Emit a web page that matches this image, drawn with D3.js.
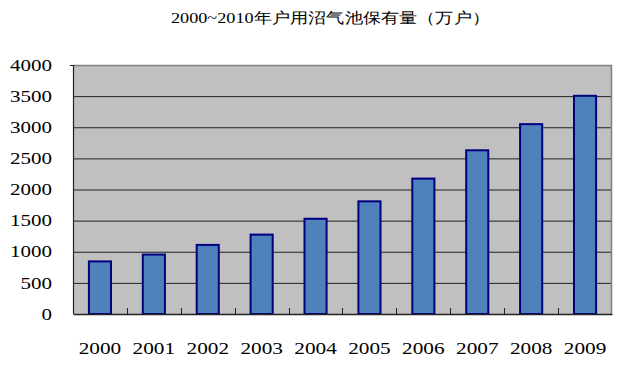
<!DOCTYPE html>
<html><head><meta charset="utf-8">
<script src="https://cdn.jsdelivr.net/npm/d3@7/dist/d3.min.js"></script>
<style>body{margin:0;background:#fff}svg{display:block}</style>
</head><body>
<svg id="c" width="629" height="369"></svg>
<script>
const title = "2000~2010年户用沼气池保有量（万户）";
const years = ["2000","2001","2002","2003","2004","2005","2006","2007","2008","2009"];
const values = [845, 955, 1110, 1275, 1530, 1810, 2175, 2630, 3050, 3505];
const yTicks = [0, 500, 1000, 1500, 2000, 2500, 3000, 3500, 4000];

const W = 629, H = 369;
const m = {left: 73, right: 17, top: 65, bottom: 55};
const w = W - m.left - m.right, h = H - m.top - m.bottom;
const svg = d3.select("#c");
const serif = "'Liberation Serif', 'Times New Roman', serif";

svg.append("text").attr("x", 171).attr("y", 23)
  .style("font-family", serif).style("font-size", "15px")
  .attr("textLength", 319).attr("lengthAdjust", "spacingAndGlyphs")
  .attr("fill", "#000").text(title);

const g = svg.append("g").attr("transform", `translate(${m.left},${m.top})`);
const pIn = 0.59;
const x = d3.scaleBand().domain(years).range([0, w]).paddingInner(pIn).paddingOuter(pIn / 2);
const y = d3.scaleLinear().domain([0, 4000]).range([h, 0]);

g.append("rect").attr("width", w).attr("height", h).attr("fill", "#c0c0c0");

const ya = g.append("g").call(d3.axisLeft(y).tickValues(yTicks).tickFormat(d3.format("d"))
  .tickSizeInner(-w).tickSizeOuter(0).tickPadding(21));
ya.select(".domain").remove();
ya.selectAll(".tick line").attr("stroke", "#222").attr("stroke-width", 1)
  .filter(d => d === 0 || d === 4000).remove();
ya.selectAll(".tick text").style("font-family", serif).style("font-size", "16px").attr("fill", "#000")
  .attr("textLength", d => String(d).length * 10.5).attr("lengthAdjust", "spacingAndGlyphs");

// top and right border (gray)
g.append("path").attr("d", `M0,0.5H${w - 0.5}V${h}`).attr("fill", "none").attr("stroke", "#808080").attr("stroke-width", 1.5);

g.selectAll("rect.bar").data(values).join("rect").attr("class", "bar")
  .attr("x", (d, i) => x(years[i])).attr("y", d => y(d))
  .attr("width", x.bandwidth()).attr("height", d => h - y(d))
  .attr("fill", "#4f81bd").attr("stroke", "#000080").attr("stroke-width", 2);

// left axis
g.append("line").attr("x1", 0.5).attr("x2", 0.5).attr("y1", 0).attr("y2", h).attr("stroke", "#222").attr("stroke-width", 1.2);
g.append("line").attr("x1", -3).attr("x2", 0).attr("y1", 0.5).attr("y2", 0.5).attr("stroke", "#222");

const xa = g.append("g").attr("transform", `translate(0,${h})`)
  .call(d3.axisBottom(x).tickSize(0).tickPadding(28));
xa.select(".domain").attr("stroke", "#222").attr("stroke-width", 1.5);
xa.selectAll(".tick text").style("font-family", serif).style("font-size", "17px").attr("fill", "#000")
  .attr("textLength", 42.5).attr("lengthAdjust", "spacingAndGlyphs");

// boundary ticks pointing up
g.append("g").selectAll("line").data(years.slice(1)).join("line")
  .attr("x1", d => Math.round(x(d) - x.step() * pIn / 2) + 0.5)
  .attr("x2", d => Math.round(x(d) - x.step() * pIn / 2) + 0.5)
  .attr("y1", h).attr("y2", h - 6).attr("stroke", "#222").attr("stroke-width", 1);
</script>
</body></html>
